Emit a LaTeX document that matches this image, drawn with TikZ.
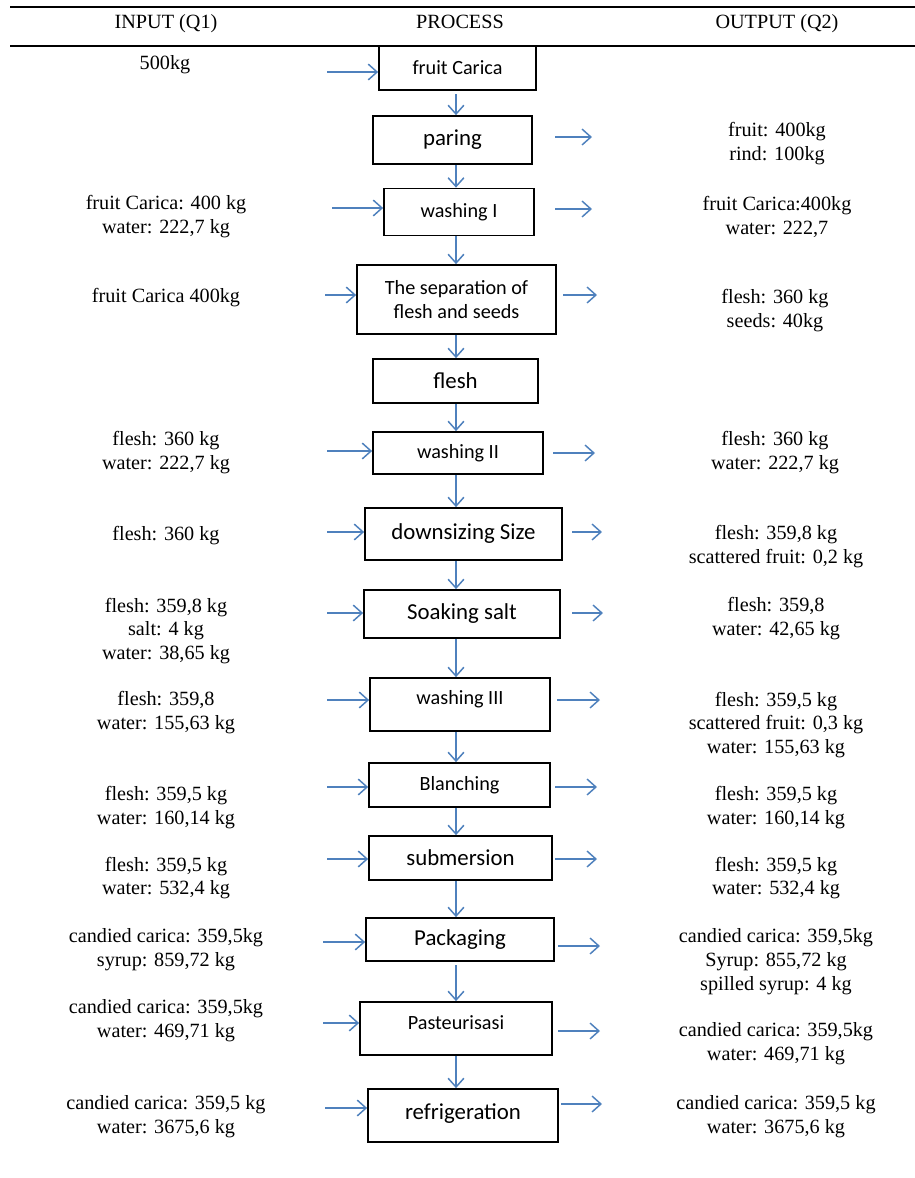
\documentclass[tikz,border=0pt]{standalone}
\usepackage{fontspec}
\setmainfont{Liberation Serif}
\newfontfamily\boxfont{Carlito}
\usepackage{tikz}
\usepackage{xcolor}
\usetikzlibrary{arrows.meta}
\definecolor{flowblue}{RGB}{79,129,189}

\begin{document}
\begin{tikzpicture}[x=0.02cm,y=-0.02cm]%
  \tikzstyle{procn}=[rectangle,draw,line width=1pt,inner sep=0,align=center,font=\boxfont\fontsize{11.5}{14}\selectfont]
  \tikzstyle{bign}=[procn,font=\boxfont\fontsize{13}{15}\selectfont]
  \tikzstyle{txtn}=[align=center,inner sep=0,font=\fontsize{11.5}{13.6}\selectfont]
  \tikzstyle{flow}=[draw=flowblue,line width=0.85pt,-{Straight Barb[length=5pt,width=9pt,line width=0.85pt]}]
  \useasboundingbox (0,0) rectangle (915,1178);
  % header
  \draw[line width=1.1pt] (10,7) -- (915,7);
  \draw[line width=1.1pt] (10,46) -- (915,46);
  \node(hin)[txtn,anchor=base] at (166,28){INPUT (Q1)};
  \node(hpr)[txtn,anchor=base] at (460,28){PROCESS};
  \node(hout)[txtn,anchor=base] at (777,28){OUTPUT (Q2)};
  % process boxes
  \node(p1)[procn,minimum width=3.14cm,minimum height=0.88cm] at (457.5,68){fruit Carica};
  \node(p2)[bign,minimum width=3.18cm,minimum height=0.96cm] at (452.5,140){paring};
  \node(p3)[procn,minimum width=3cm,minimum height=0.94cm] at (459,212){washing I};
  \node(p4)[procn,minimum width=3.98cm,minimum height=1.38cm] at (456.5,299.5){The separation of\\flesh and seeds};
  \node(p5)[bign,minimum width=3.3cm,minimum height=0.88cm] at (455.5,381){flesh};
  \node(p6)[procn,minimum width=3.4cm,minimum height=0.84cm] at (458,453){washing II};
  \node(p7)[bign,minimum width=3.94cm,minimum height=1.04cm] at (463.5,534){downsizing Size};
  \node(p8)[bign,minimum width=3.92cm,minimum height=0.96cm] at (462,614){Soaking salt};
  \node(p9)[procn,text depth=7.5pt,minimum width=3.6cm,minimum height=1.06cm] at (460,704.5){washing III};
  \node(p10)[procn,minimum width=3.62cm,minimum height=0.88cm] at (459.5,785){Blanching};
  \node(p11)[bign,minimum width=3.66cm,minimum height=0.88cm] at (460.5,858){submersion};
  \node(p12)[bign,minimum width=3.76cm,minimum height=0.86cm] at (460,939.5){Packaging};
  \node(p13)[procn,text depth=7pt,minimum width=3.84cm,minimum height=1.06cm] at (456,1028.5){Pasteurisasi};
  \node(p14)[bign,text depth=5pt,minimum width=3.8cm,minimum height=1.06cm] at (463,1115.5){refrigeration};
  % down arrows
  \coordinate (mid) at (456,0);
  \draw[flow] ([yshift=-2pt]p1.south -| mid) -- (p2.north -| mid);
  \draw[flow] (p2.south -| mid) -- (p3.north -| mid);
  \draw[flow] (p3.south -| mid) -- (p4.north -| mid);
  \draw[flow] (p4.south -| mid) -- (p5.north -| mid);
  \draw[flow] (p5.south -| mid) -- (p6.north -| mid);
  \draw[flow] (p6.south -| mid) -- (p7.north -| mid);
  \draw[flow] (p7.south -| mid) -- (p8.north -| mid);
  \draw[flow] (p8.south -| mid) -- (p9.north -| mid);
  \draw[flow] (p9.south -| mid) -- (p10.north -| mid);
  \draw[flow] (p10.south -| mid) -- (p11.north -| mid);
  \draw[flow] (p11.south -| mid) -- (p12.north -| mid);
  \draw[flow] ([yshift=-2pt]p12.south -| mid) -- (p13.north -| mid);
  \draw[flow] (p13.south -| mid) -- (p14.north -| mid);
  % input
  \node(i1)[txtn] at (165,65){500kg};
  \node(i3)[txtn] at (166,217){fruit Carica: 400 kg\\water: 222,7 kg};
  \node(i4)[txtn] at (166,298){fruit Carica 400kg};
  \node(i6)[txtn] at (166,453){flesh: 360 kg\\water: 222,7 kg};
  \node(i7)[txtn] at (166,536){flesh: 360 kg};
  \node(i8)[txtn] at (166,631){flesh: 359,8 kg\\salt: 4 kg\\water: 38,65 kg};
  \node(i9)[txtn] at (166,713){flesh: 359,8\\water: 155,63 kg};
  \node(i10)[txtn] at (166,808){flesh: 359,5 kg\\water: 160,14 kg};
  \node(i11)[txtn] at (166,878){flesh: 359,5 kg\\water: 532,4 kg};
  \node(i12)[txtn] at (166,950){candied carica: 359,5kg\\syrup: 859,72 kg};
  \node(i13)[txtn] at (166,1021){candied carica: 359,5kg\\water: 469,71 kg};
  \node(i14)[txtn] at (166,1117){candied carica: 359,5 kg\\water: 3675,6 kg};
  \coordinate (a1) at (327,72);
  \coordinate (a3) at (332,208);
  \coordinate (a4) at (325,295);
  \coordinate (a6) at (327,451);
  \coordinate (a7) at (327,532);
  \coordinate (a8) at (327,613);
  \coordinate (a9) at (327,700);
  \coordinate (a10) at (327,787);
  \coordinate (a11) at (327,859);
  \coordinate (a12) at (323,942);
  \coordinate (a13) at (323,1023);
  \coordinate (a14) at (325,1108);
  \draw[flow] (a1) -- (a1 -| p1.west);
  \draw[flow] (a3) -- (a3 -| p3.west);
  \draw[flow] (a4) -- (a4 -| p4.west);
  \draw[flow] (a6) -- (a6 -| p6.west);
  \draw[flow] (a7) -- (a7 -| p7.west);
  \draw[flow] (a8) -- (a8 -| p8.west);
  \draw[flow] (a9) -- (a9 -| p9.west);
  \draw[flow] (a10) -- (a10 -| p10.west);
  \draw[flow] (a11) -- (a11 -| p11.west);
  \draw[flow] (a12) -- (a12 -| p12.west);
  \draw[flow] (a13) -- (a13 -| p13.west);
  \draw[flow] (a14) -- (a14 -| p14.west);
  % output
  \node(o2)[txtn] at (777,144){fruit: 400kg\\rind: 100kg};
  \node(o3)[txtn] at (777,217){fruit Carica:400kg\\water: 222,7};
  \node(o4)[txtn] at (775,311){flesh: 360 kg\\seeds: 40kg};
  \node(o6)[txtn] at (775,453){flesh: 360 kg\\water: 222,7 kg};
  \node(o7)[txtn] at (776,547){flesh: 359,8 kg\\scattered fruit: 0,2 kg};
  \node(o8)[txtn] at (776,619){flesh: 359,8\\water: 42,65 kg};
  \node(o9)[txtn] at (776,725){flesh: 359,5 kg\\scattered fruit: 0,3 kg\\water: 155,63 kg};
  \node(o10)[txtn] at (776,808){flesh: 359,5 kg\\water: 160,14 kg};
  \node(o11)[txtn] at (776,878){flesh: 359,5 kg\\water: 532,4 kg};
  \node(o12)[txtn] at (776,962){candied carica: 359,5kg\\Syrup: 855,72 kg\\spilled syrup: 4 kg};
  \node(o13)[txtn] at (776,1044){candied carica: 359,5kg\\water: 469,71 kg};
  \node(o14)[txtn] at (776,1117){candied carica: 359,5 kg\\water: 3675,6 kg};
  \coordinate (s2) at (555,137);  \coordinate (e2) at (592,137);
  \coordinate (s3) at (555,209);  \coordinate (e3) at (592,209);
  \coordinate (s4) at (563,295);  \coordinate (e4) at (597,295);
  \coordinate (s6) at (553,453);  \coordinate (e6) at (595,453);
  \coordinate (s7) at (572,532);  \coordinate (e7) at (602,532);
  \coordinate (s8) at (572,613);  \coordinate (e8) at (603,613);
  \coordinate (s9) at (557,700);  \coordinate (e9) at (600,700);
  \coordinate (s10) at (555,787); \coordinate (e10) at (597,787);
  \coordinate (s11) at (555,859); \coordinate (e11) at (597,859);
  \coordinate (s12) at (558,946); \coordinate (e12) at (600,946);
  \coordinate (s13) at (558,1031); \coordinate (e13) at (600,1031);
  \coordinate (s14) at (561,1104); \coordinate (e14) at (602,1104);
  \draw[flow] (s2) -- (e2);
  \draw[flow] (s3) -- (e3);
  \draw[flow] (s4) -- (e4);
  \draw[flow] (s6) -- (e6);
  \draw[flow] (s7) -- (e7);
  \draw[flow] (s8) -- (e8);
  \draw[flow] (s9) -- (e9);
  \draw[flow] (s10) -- (e10);
  \draw[flow] (s11) -- (e11);
  \draw[flow] (s12) -- (e12);
  \draw[flow] (s13) -- (e13);
  \draw[flow] (s14) -- (e14);
\end{tikzpicture}
\end{document}
